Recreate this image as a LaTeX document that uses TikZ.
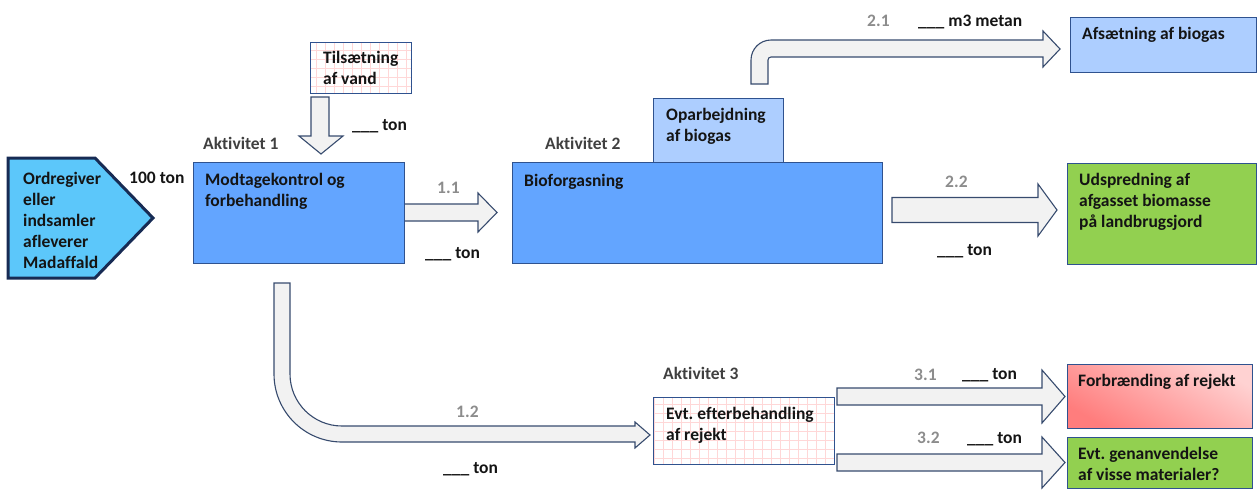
\documentclass[tikz,border=0pt]{standalone}
\usepackage{fontspec}
\setmainfont{Carlito}[Ligatures=NoCommon]
\usetikzlibrary{calc}
\frenchspacing
\definecolor{txtc}{RGB}{20,20,20}
\definecolor{numc}{RGB}{140,140,140}
\definecolor{actc}{RGB}{64,64,64}
\definecolor{boxc}{RGB}{47,82,143}
\definecolor{blueone}{RGB}{99,165,255}
\definecolor{bluetwo}{RGB}{173,206,255}
\definecolor{cyanf}{RGB}{92,199,250}
\definecolor{pentc}{RGB}{23,43,84}
\definecolor{greenf}{RGB}{146,208,80}
\definecolor{redl}{RGB}{255,210,210}
\definecolor{redd}{RGB}{255,125,125}
\definecolor{arrf}{RGB}{242,242,242}
\definecolor{arrc}{RGB}{55,75,110}
\definecolor{gridc}{RGB}{255,215,215}
\newcommand\blockarr[6]{% xstart, xhead, xtip, ycenter, half shaft, half head
  \draw[arr] (#1,#4-#5) -- (#2,#4-#5) -- (#2,#4-#6) -- (#3,#4) -- (#2,#4+#6) -- (#2,#4+#5) -- (#1,#4+#5) -- cycle;}
\begin{document}
\begin{tikzpicture}[x=1pt,y=-1pt,
  txt/.style={font=\fontsize{17.5}{21}\selectfont\bfseries\frenchspacing, inner sep=0pt, anchor=base west, align=left, text=txtc},
  num/.style={txt, text=numc},
  act/.style={txt, text=actc},
  box/.style={draw=boxc, line width=1.2pt, anchor=north west, inner sep=0pt},
  gridbox/.style={box, fill=white, path picture={\draw[gridc, line width=0.5pt, step=9pt] (path picture bounding box.south west) grid (path picture bounding box.north east);}},
  arr/.style={draw=arrc, fill=arrf, line width=1.1pt, line join=miter},
  pent/.style={draw=pentc, fill=cyanf, line width=3pt, line join=miter},
]
\useasboundingbox (0,0) rectangle (1258,491);

% ---- block arrows ----
\draw[arr] (311,97) -- (329,97) -- (329,136) -- (343,136) -- (321,154) -- (299,136) -- (311,136) -- cycle;
\blockarr{404}{478}{497}{212.5}{8.5}{19.5}
\blockarr{892}{1038}{1057}{210}{12.5}{26}
\blockarr{837}{1042}{1065}{396.5}{8.5}{26.5}
\blockarr{837}{1042}{1065}{462.5}{8.5}{25.5}
% 1.2 bent arrow
\draw[arr] (274,283) -- (274,374) .. controls (274,411.56) and (304.44,442) .. (342,442)
  -- (635,442) -- (635,448) -- (650,435) -- (635,422) -- (635,426) -- (342,426)
  .. controls (313.28,426) and (290,402.72) .. (290,374) -- (290,283) -- cycle;
% 2.1 bent arrow
\draw[arr] (751,84) -- (751,60) .. controls (751,48.95) and (759.95,40) .. (771,40)
  -- (1043,40) -- (1043,31) -- (1060,49) -- (1043,67) -- (1043,57) -- (771,57)
  .. controls (769.34,57) and (768,58.34) .. (768,60) -- (768,84) -- cycle;

% ---- source pentagon ----
\draw[pent] (8,158) -- (95,158) -- (153,218) -- (95,278) -- (8,278) -- cycle;
\node[txt] (src) at (23,268) {Ordregiver\\eller\\indsamler\\afleverer\\Madaffald};

% ---- boxes ----
\node[box, fill=blueone, minimum width=211pt, minimum height=101pt] (a1) at (193,162) {};
\node[gridbox, minimum width=101pt, minimum height=51pt] (tils) at (310,42) {};
\node[box, fill=bluetwo, minimum width=130pt, minimum height=64pt] (opb) at (653,98) {};
\node[box, fill=blueone, minimum width=370pt, minimum height=101pt] (a2) at (512,162) {};
\node[box, fill=bluetwo, minimum width=186pt, minimum height=55pt] (afs) at (1070,17) {};
\node[box, fill=greenf, minimum width=189pt, minimum height=101pt] (udsp) at (1067,163) {};
\node[gridbox, minimum width=181pt, minimum height=67pt] (a3) at (653,397) {};
\node[box, top color=redl, bottom color=redd, shading angle=-30, minimum width=185pt, minimum height=64pt] (forb) at (1067,364) {};
\node[box, fill=greenf, minimum width=185pt, minimum height=51pt] (gen) at (1067,437) {};

% ---- texts ----
\node[txt] (t100) at (129,183) {100 ton};
\node[act] (lab1) at (203,149) {Aktivitet 1};
\node[txt] (a1t) at (205,206) {Modtagekontrol og\\forbehandling};
\node[txt] (tilst) at (323,84) {Tilsætning\\af vand};
\node[txt] (tonv) at (352,130) {\_\_\_ ton};
\node[num] (n11) at (437,193) {1.1};
\node[txt] (ton11) at (425,258) {\_\_\_ ton};
\node[act] (lab2) at (545,149) {Aktivitet 2};
\node[txt] (a2t) at (524,186) {Bioforgasning};
\node[txt] (opbt) at (666,141) {Oparbejdning\\af biogas};
\node[num] (n21) at (867,26) {2.1};
\node[txt] (ton21) at (918,26) {\_\_\_ m3 metan};
\node[txt] (afst) at (1082,39) {Afsætning af biogas};
\node[num] (n22) at (945,187) {2.2};
\node[txt] (ton22) at (937,255) {\_\_\_ ton};
\node[txt] (udspt) at (1079,227) {Udspredning af\\afgasset biomasse\\på landbrugsjord};
\node[num] (n12) at (456,417) {1.2};
\node[txt] (ton12) at (443,473) {\_\_\_ ton};
\node[act] (lab3) at (663,379) {Aktivitet 3};
\node[txt] (a3t) at (666,440) {Evt. efterbehandling\\af rejekt};
\node[num] (n31) at (914,380) {3.1};
\node[txt] (ton31) at (962,379) {\_\_\_ ton};
\node[num] (n32) at (917,443) {3.2};
\node[txt] (ton32) at (967,443) {\_\_\_ ton};
\node[txt] (forbt) at (1078,386) {Forbrænding af rejekt};
\node[txt] (gent) at (1078,480) {Evt. genanvendelse\\af visse materialer?};
\end{tikzpicture}
\end{document}
